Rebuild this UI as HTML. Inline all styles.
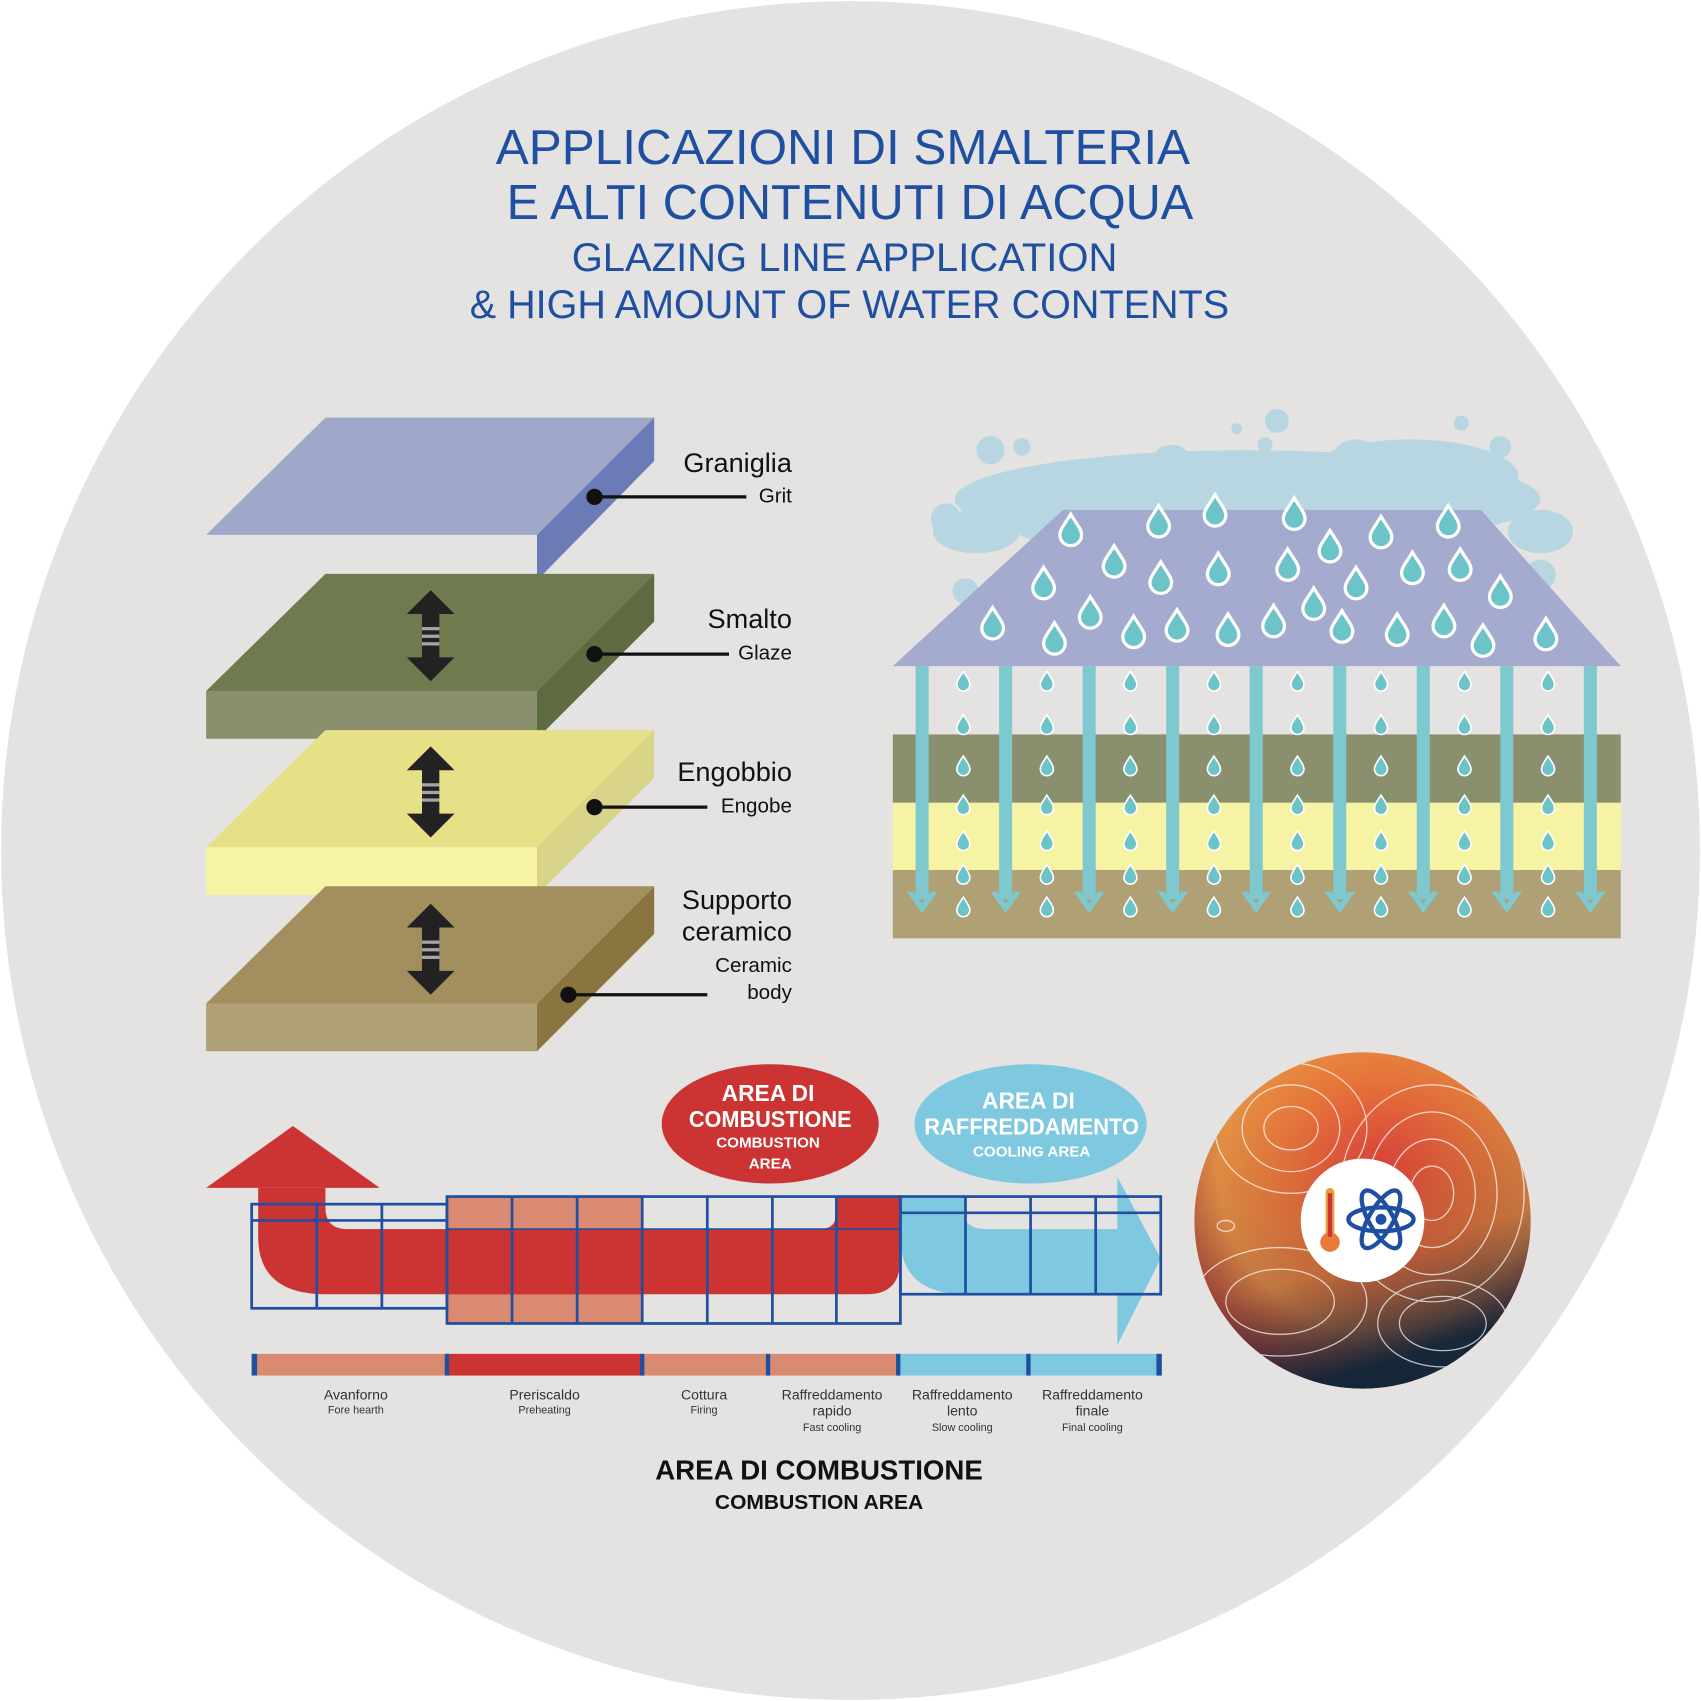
<!DOCTYPE html>
<html><head><meta charset="utf-8"><style>html,body{margin:0;padding:0;background:#fff}svg{display:block}</style></head>
<body>
<svg width="1701" height="1701" viewBox="0 0 1568 1568" xmlns="http://www.w3.org/2000/svg" font-family="Liberation Sans, sans-serif">
<defs>
<radialGradient id="heat" cx="0.55" cy="0.35" r="0.8">
<stop offset="0" stop-color="#e8433a"/><stop offset="0.35" stop-color="#ea7a3a"/><stop offset="0.6" stop-color="#e79a45"/><stop offset="0.8" stop-color="#a8483a"/><stop offset="1" stop-color="#1c2a3e"/>
</radialGradient>
<linearGradient id="heat2" x1="0" y1="0" x2="0.3" y2="1">
<stop offset="0" stop-color="#d8503a" stop-opacity="0"/><stop offset="0.7" stop-color="#6a2a35" stop-opacity="0.3"/><stop offset="1" stop-color="#0e2438" stop-opacity="0.95"/>
</linearGradient>
<g id="drop"><path d="M0,-14 C6,-4 10,0 10,5 A10,10 0 0 1 -10,5 C-10,0 -6,-4 0,-14Z" fill="#6cc4c8" stroke="#fff" stroke-width="3"/></g>
<g id="sdrop"><path d="M0,-9 C4,-3 6,0 6,3 A6,6 0 0 1 -6,3 C-6,0 -4,-3 0,-9Z" fill="#6cc4c8" stroke="#fff" stroke-width="1.5"/></g>
<g id="varr"><rect x="-6" y="614" width="12" height="215" fill="#7ec8cf"/><path d="M-14,822 L0,842 L14,822 L8,822 L0,833 L-8,822Z" fill="#7ec8cf"/></g>
<g id="darr" fill="#222"><path d="M0,-42 L22,-20 L8,-20 L8,20 L22,20 L0,42 L-22,20 L-8,20 L-8,-20 L-22,-20Z"/><rect x="-8" y="-8" width="16" height="3" fill="#fff" opacity=".6"/><rect x="-8" y="-1" width="16" height="3" fill="#fff" opacity=".6"/><rect x="-8" y="6" width="16" height="3" fill="#fff" opacity=".6"/></g>
</defs>
<rect width="1568" height="1568" fill="#fff"/>
<circle cx="784" cy="784" r="783" fill="#e4e3e1"/>
<g fill="#1e4fa0">
<text x="457" y="151" font-size="45" textLength="640" lengthAdjust="spacingAndGlyphs">APPLICAZIONI DI SMALTERIA</text>
<text x="467" y="202" font-size="45" textLength="633" lengthAdjust="spacingAndGlyphs">E ALTI CONTENUTI DI ACQUA</text>
<text x="527" y="250" font-size="37" textLength="503" lengthAdjust="spacingAndGlyphs">GLAZING LINE APPLICATION</text>
<text x="433" y="293" font-size="37" textLength="700" lengthAdjust="spacingAndGlyphs">&amp; HIGH AMOUNT OF WATER CONTENTS</text>
</g>
<!-- layers -->
<polygon points="495,493 603,385 603,425 495,535" fill="#6b7bb5"/>
<polygon points="190,493 300,385 603,385 495,493" fill="#9fa8c8"/>
<polygon points="495,637 603,529 603,573 495,681" fill="#5e6a40"/>
<polygon points="190,637 300,529 603,529 495,637" fill="#6f7b4f"/>
<rect x="190" y="637" width="305" height="44" fill="#8a8f6e"/>
<polygon points="495,781 603,673 603,717 495,825" fill="#d9d488"/>
<polygon points="190,781 300,673 603,673 495,781" fill="#e6e087"/>
<rect x="190" y="781" width="305" height="44" fill="#f6f3a5"/>
<polygon points="495,925 603,817 603,861 495,969" fill="#8a7440"/>
<polygon points="190,925 300,817 603,817 495,925" fill="#a38f5e"/>
<rect x="190" y="925" width="305" height="44" fill="#b0a076"/>
<use href="#darr" x="397" y="586"/><use href="#darr" x="397" y="730"/><use href="#darr" x="397" y="875"/>
<g stroke="#111" stroke-width="3" fill="#111">
<line x1="548" y1="458" x2="688" y2="458"/><circle cx="548" cy="458" r="6"/>
<line x1="548" y1="603" x2="672" y2="603"/><circle cx="548" cy="603" r="6"/>
<line x1="548" y1="744" x2="652" y2="744"/><circle cx="548" cy="744" r="6"/>
<line x1="524" y1="917" x2="652" y2="917"/><circle cx="524" cy="917" r="6"/>
</g>
<g fill="#111" text-anchor="end">
<text x="730" y="435" font-size="25">Graniglia</text><text x="730" y="463" font-size="19">Grit</text>
<text x="730" y="579" font-size="25">Smalto</text><text x="730" y="608" font-size="19">Glaze</text>
<text x="730" y="720" font-size="25">Engobbio</text><text x="730" y="749" font-size="19">Engobe</text>
<text x="730" y="838" font-size="25">Supporto</text><text x="730" y="867" font-size="25">ceramico</text>
<text x="730" y="896" font-size="19">Ceramic</text><text x="730" y="921" font-size="19">body</text>
</g>
<!-- right diagram -->
<g fill="#b8d6e2">
<ellipse cx="1150" cy="460" rx="270" ry="45"/><ellipse cx="1000" cy="470" rx="80" ry="35"/><ellipse cx="1300" cy="440" rx="100" ry="35"/>
<ellipse cx="900" cy="490" rx="40" ry="20"/><ellipse cx="1420" cy="490" rx="30" ry="20"/><circle cx="872" cy="478" r="14"/>
<circle cx="913" cy="415" r="13"/><circle cx="942" cy="412" r="8"/><circle cx="921" cy="448" r="8"/><circle cx="1177" cy="388" r="11"/><circle cx="1166" cy="410" r="7"/><circle cx="1140" cy="395" r="5"/><circle cx="1347" cy="390" r="7"/><circle cx="1383" cy="412" r="10"/><circle cx="1080" cy="430" r="20"/><circle cx="890" cy="545" r="12"/><circle cx="1420" cy="530" r="14"/>
<circle cx="1010" cy="445" r="22"/><circle cx="1250" cy="430" r="25"/><circle cx="1330" cy="455" r="28"/>
</g>
<polygon points="823,614 980,470 1365,470 1494,614" fill="#9fa6cc" opacity="0.92"/>
<rect x="823" y="677" width="671" height="63" fill="#8a8f6e"/>
<rect x="823" y="740" width="671" height="62" fill="#f6f3a5"/>
<rect x="823" y="802" width="671" height="63" fill="#b0a076"/>
<g>
<use href="#varr" x="850"/><use href="#varr" x="927"/><use href="#varr" x="1004"/><use href="#varr" x="1081"/><use href="#varr" x="1158"/><use href="#varr" x="1235"/><use href="#varr" x="1312"/><use href="#varr" x="1389"/><use href="#varr" x="1466"/>
</g>
<g id="col">
<use href="#sdrop" x="888" y="628"/><use href="#sdrop" x="888" y="668"/><use href="#sdrop" x="888" y="706"/><use href="#sdrop" x="888" y="742"/><use href="#sdrop" x="888" y="775"/><use href="#sdrop" x="888" y="806"/><use href="#sdrop" x="888" y="836"/>
</g>
<use href="#col" x="77"/><use href="#col" x="154"/><use href="#col" x="231"/><use href="#col" x="308"/><use href="#col" x="385"/><use href="#col" x="462"/><use href="#col" x="539"/>
<g>
<use href="#drop" x="987" y="488"/><use href="#drop" x="1068" y="480"/><use href="#drop" x="1120" y="470"/><use href="#drop" x="1193" y="473"/><use href="#drop" x="1273" y="490"/><use href="#drop" x="1335" y="480"/>
<use href="#drop" x="1027" y="517"/><use href="#drop" x="1226" y="503"/><use href="#drop" x="962" y="537"/><use href="#drop" x="1070" y="532"/><use href="#drop" x="1123" y="524"/><use href="#drop" x="1187" y="520"/><use href="#drop" x="1250" y="537"/><use href="#drop" x="1302" y="523"/><use href="#drop" x="1346" y="520"/><use href="#drop" x="1383" y="545"/>
<use href="#drop" x="915" y="574"/><use href="#drop" x="1005" y="564"/><use href="#drop" x="1045" y="582"/><use href="#drop" x="1085" y="576"/><use href="#drop" x="1132" y="580"/><use href="#drop" x="1174" y="572"/><use href="#drop" x="1211" y="556"/><use href="#drop" x="1237" y="577"/><use href="#drop" x="1288" y="580"/><use href="#drop" x="1331" y="572"/><use href="#drop" x="1367" y="590"/><use href="#drop" x="1425" y="584"/><use href="#drop" x="972" y="588"/>
</g>
<!-- kiln -->
<rect x="412" y="1103" width="180" height="117" fill="#d98a70"/>
<path d="M238,1095 L238,1140 Q238,1193 300,1193 L800,1193 Q830,1193 830,1160 L830,1103 L771,1103 L771,1118 Q771,1133 755,1133 L320,1133 Q300,1133 300,1113 L300,1095Z" fill="#cc3333"/>
<polygon points="190,1095 270,1038 350,1095" fill="#cc3333"/>
<rect x="412" y="1133" width="180" height="60" fill="#cc3333"/>
<path d="M830,1103 L890,1103 L890,1125 Q895,1133 910,1133 L1030,1133 L1030,1193 L890,1193 Q830,1193 830,1140Z" fill="#7ec8e0"/>
<polygon points="1030,1085 1070,1160 1030,1240" fill="#7ec8e0"/>
<g fill="none" stroke="#1e4fa0" stroke-width="2.5">
<rect x="232" y="1110" width="180" height="96"/><line x1="232" y1="1125" x2="412" y2="1125"/><line x1="292" y1="1110" x2="292" y2="1206"/><line x1="352" y1="1110" x2="352" y2="1206"/>
<rect x="412" y="1103" width="418" height="117"/><line x1="412" y1="1133" x2="830" y2="1133" stroke-width="1.5"/>
<line x1="472" y1="1103" x2="472" y2="1220"/><line x1="532" y1="1103" x2="532" y2="1220"/><line x1="592" y1="1103" x2="592" y2="1220"/><line x1="652" y1="1103" x2="652" y2="1220"/><line x1="712" y1="1103" x2="712" y2="1220"/><line x1="771" y1="1103" x2="771" y2="1220"/>
<rect x="830" y="1103" width="240" height="90"/><line x1="830" y1="1118" x2="1070" y2="1118"/><line x1="890" y1="1103" x2="890" y2="1193"/><line x1="950" y1="1103" x2="950" y2="1193"/><line x1="1010" y1="1103" x2="1010" y2="1193"/>
</g>
<rect x="232" y="1248" width="180" height="20" fill="#d98a70"/>
<rect x="412" y="1248" width="180" height="20" fill="#cc3333"/>
<rect x="592" y="1248" width="236" height="20" fill="#d98a70"/>
<rect x="828" y="1248" width="242" height="20" fill="#7ec8e0"/>
<g fill="#1e4fa0"><rect x="232" y="1248" width="5" height="20"/><rect x="410" y="1248" width="4" height="20"/><rect x="590" y="1248" width="4" height="20"/><rect x="706" y="1248" width="4" height="20"/><rect x="826" y="1248" width="4" height="20"/><rect x="946" y="1248" width="4" height="20"/><rect x="1066" y="1248" width="5" height="20"/></g>
<g fill="#333" text-anchor="middle" font-size="13">
<text x="328" y="1290">Avanforno</text><text x="328" y="1303" font-size="10">Fore hearth</text>
<text x="502" y="1290">Preriscaldo</text><text x="502" y="1303" font-size="10">Preheating</text>
<text x="649" y="1290">Cottura</text><text x="649" y="1303" font-size="10">Firing</text>
<text x="767" y="1290">Raffreddamento</text><text x="767" y="1305">rapido</text><text x="767" y="1319" font-size="10">Fast cooling</text>
<text x="887" y="1290">Raffreddamento</text><text x="887" y="1305">lento</text><text x="887" y="1319" font-size="10">Slow cooling</text>
<text x="1007" y="1290">Raffreddamento</text><text x="1007" y="1305">finale</text><text x="1007" y="1319" font-size="10">Final cooling</text>
</g>
<ellipse cx="710" cy="1036" rx="100" ry="55" fill="#cc3333"/>
<ellipse cx="950" cy="1036" rx="107" ry="55" fill="#7ec8e0"/>
<g fill="#fff" text-anchor="middle" font-weight="bold">
<text x="708" y="1015" font-size="21">AREA DI</text><text x="710" y="1039" font-size="21" textLength="150" lengthAdjust="spacingAndGlyphs">COMBUSTIONE</text><text x="708" y="1058" font-size="14">COMBUSTION</text><text x="710" y="1077" font-size="14">AREA</text>
<text x="948" y="1022" font-size="21">AREA DI</text><text x="951" y="1046" font-size="21" textLength="198" lengthAdjust="spacingAndGlyphs">RAFFREDDAMENTO</text><text x="951" y="1066" font-size="14">COOLING AREA</text>
</g>
<g fill="#111" text-anchor="middle" font-weight="bold">
<text x="755" y="1364" font-size="26" textLength="302" lengthAdjust="spacingAndGlyphs">AREA DI COMBUSTIONE</text><text x="755" y="1391" font-size="19" textLength="192" lengthAdjust="spacingAndGlyphs">COMBUSTION AREA</text>
</g>
<!-- heat circle -->
<circle cx="1256" cy="1125" r="155" fill="url(#heat)"/>
<circle cx="1256" cy="1125" r="155" fill="url(#heat2)"/>
<clipPath id="hc"><circle cx="1256" cy="1125" r="155"/></clipPath>
<g fill="none" stroke="#fff" stroke-width="1.2" opacity="0.7" clip-path="url(#hc)">
<ellipse cx="1320" cy="1100" rx="20" ry="25"/><ellipse cx="1320" cy="1100" rx="40" ry="50"/><ellipse cx="1320" cy="1100" rx="60" ry="75"/><ellipse cx="1320" cy="1100" rx="85" ry="100"/>
<ellipse cx="1190" cy="1040" rx="25" ry="20"/><ellipse cx="1190" cy="1040" rx="45" ry="40"/><ellipse cx="1190" cy="1040" rx="70" ry="60"/><ellipse cx="1180" cy="1200" rx="50" ry="30"/><ellipse cx="1180" cy="1200" rx="80" ry="50"/><ellipse cx="1330" cy="1220" rx="40" ry="25"/><ellipse cx="1330" cy="1220" rx="60" ry="40"/><ellipse cx="1130" cy="1130" rx="8" ry="5"/>
</g>
<circle cx="1256" cy="1125" r="57" fill="#fff"/>
<rect x="1222" y="1095" width="8" height="45" rx="4" fill="#e8a03a"/><circle cx="1226" cy="1145" r="9" fill="#e87a3a"/><rect x="1224" y="1100" width="4" height="40" fill="#cc3333"/>
<g fill="none" stroke="#1e4fa0" stroke-width="4"><ellipse cx="1273" cy="1124" rx="30" ry="11"/><ellipse cx="1273" cy="1124" rx="30" ry="11" transform="rotate(60 1273 1124)"/><ellipse cx="1273" cy="1124" rx="30" ry="11" transform="rotate(-60 1273 1124)"/></g>
<circle cx="1273" cy="1124" r="5" fill="#1e4fa0"/>
</svg>
</body></html>
